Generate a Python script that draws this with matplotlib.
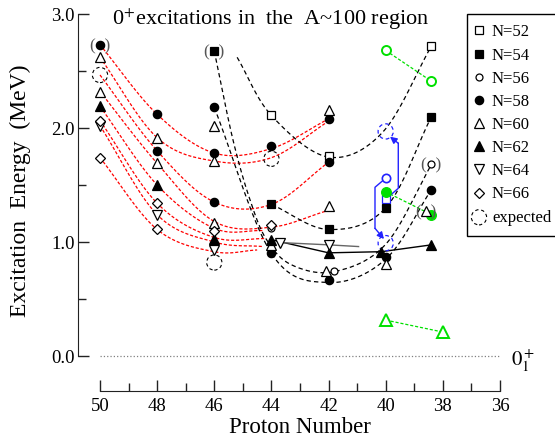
import matplotlib
matplotlib.use('Agg')
import matplotlib.pyplot as plt
import numpy as np

plt.rcParams['font.family'] = ['Liberation Serif', 'DejaVu Serif']
plt.rcParams['mathtext.fontset'] = 'stix'

# ---- data (proton number Z, excitation energy in MeV) ----
n52_z = [44, 42, 38.4]
n52_e = [2.11, 1.755, 2.72]
n52b_z = [40]
n52b_e = [1.375]
n54_z = [46, 44, 42, 40, 38.4]
n54_e = [2.675, 1.33, 1.11, 1.295, 2.10]
n56_z = [44, 41.8, 38.4]
n56_e = [1.12, 0.75, 1.68]
n56b_z = [40]
n56b_e = [1.56]
n56g_z = [40, 38.4]
n56g_e = [2.68, 2.41]
n58_z = [50, 48, 48, 46, 46, 46, 44, 44, 42, 42, 42, 40, 38.4]
n58_e = [2.73, 2.12, 1.80, 2.18, 1.78, 1.35, 1.84, 0.90, 2.08, 1.70, 0.665, 0.87, 1.46]
n58g_z = [40, 38.4]
n58g_e = [1.44, 1.24]
n60_z = [50, 50, 48, 48, 46, 46, 46, 44, 42, 42, 42.1, 40, 38.6]
n60_e = [2.62, 2.32, 1.915, 1.69, 2.02, 1.71, 1.17, 0.975, 2.16, 1.32, 0.75, 0.81, 1.27]
n60g_z = [40, 38.0]
n60g_e = [0.315, 0.21]
n62_z = [50, 48, 46, 44, 42, 40.15, 38.4]
n62_e = [2.19, 1.50, 1.03, 1.02, 0.90, 0.915, 0.975]
n64_z = [50, 48, 46, 43.7, 42]
n64_e = [2.02, 1.24, 0.93, 0.99, 0.975]
n66_z = [50, 50, 48, 48, 46, 44]
n66_e = [2.065, 1.74, 1.34, 1.11, 1.10, 1.15]
exp_z = [50, 46, 44]
exp_e = [2.465, 0.82, 1.73]
expb_z = [40, 40]
expb_e = [1.97, 0.99]
paren_z = [50, 46, 38.4, 38.6]
paren_e = [2.73, 2.675, 1.68, 1.27]

# red guide curves
red_curves = [
    ([50, 48, 46, 44, 42], [2.73, 2.12, 1.78, 1.82, 2.08]),
    ([50, 48, 46, 44, 42], [2.62, 1.915, 1.71, 1.74, 2.06]),
    ([50, 48, 46, 44, 42], [2.465, 1.80, 1.35, 1.33, 1.70]),
    ([50, 48, 46, 44, 42.1], [2.32, 1.69, 1.18, 1.13, 1.27]),
    ([50, 48, 46, 44.3], [2.19, 1.50, 1.12, 1.10]),
    ([50, 48, 46, 44.2], [2.065, 1.34, 1.04, 1.03]),
    ([50, 48, 46, 44.3], [2.02, 1.24, 1.00, 0.96]),
    ([50, 48, 46, 44.5], [1.74, 1.11, 0.915, 0.93]),
]
# black guide curves
black_curves = [
    ([45.2, 44, 42, 40.1, 38.4], [2.62, 2.11, 1.745, 1.965, 2.72]),
    ([44, 42, 40, 38.4], [1.33, 1.11, 1.30, 2.10]),
    ([46, 45.35, 44.75, 44.17, 43.3, 41.8, 40, 38.4], [2.675, 1.9, 1.37, 1.02, 0.80, 0.74, 0.98, 1.68]),
    ([46, 44, 42, 40, 38.4], [2.18, 0.90, 0.645, 0.85, 1.46]),
]
n62_line_z = [44, 42, 40.15, 38.4]
n62_line_e = [1.02, 0.905, 0.915, 0.975]
n64_line_z = [43.7, 42, 40.95]
n64_line_e = [0.995, 0.975, 0.96]
blue_path1_z = [40, 40.375, 40.375, 40.06]
blue_path1_e = [1.56, 1.48, 1.12, 1.026]
blue_path2_z = [40, 39.56, 39.56, 39.85]
blue_path2_e = [1.375, 1.471, 1.866, 1.924]

# pixel layout helpers
PX, PY = 28.571, 114.0
def zx(px):
    return 50 - (px - 100) / PX
def ey(py):
    return (356 - py) / PY

def smooth(zs, es, n=25):
    P = np.column_stack([np.asarray(zs, float) * PX, np.asarray(es, float) * PY])
    P = np.vstack([2 * P[0] - P[1], P, 2 * P[-1] - P[-2]])
    t = np.linspace(0, 1, n)[:, None]
    out = []
    for i in range(1, len(P) - 2):
        p0, p1, p2, p3 = P[i - 1], P[i], P[i + 1], P[i + 2]
        out.append(0.5 * (2 * p1 + (-p0 + p2) * t + (2 * p0 - 5 * p1 + 4 * p2 - p3) * t ** 2
                          + (-p0 + 3 * p1 - 3 * p2 + p3) * t ** 3))
    out = np.vstack(out)
    return out[:, 0] / PX, out[:, 1] / PY

fig = plt.figure(figsize=(5.55, 4.4), dpi=100)
ax = fig.add_axes([57 / 555, 35 / 440, 498 / 555, 400 / 440])
ax.set_xlim(zx(57), zx(555))
ax.set_ylim(ey(405), ey(5))

for s in ['top', 'right']:
    ax.spines[s].set_visible(False)
ax.spines['left'].set_position(('data', zx(78)))
ax.spines['left'].set_bounds(0, 3)
ax.spines['bottom'].set_position(('data', ey(391)))
ax.spines['bottom'].set_bounds(36, 50)
ax.spines['left'].set_color('#222222')
ax.spines['bottom'].set_color('#222222')

ax.set_xticks(range(36, 51, 2))
ax.set_xticks(range(37, 50, 2), minor=True)
ax.set_yticks([0, 1, 2, 3])
ax.set_yticklabels(['0.0', '1.0', '2.0', '3.0'])
ax.set_yticks([0.5, 1.5, 2.5], minor=True)
ax.tick_params(which='both', direction='in', color='#222222', labelsize=13.5)
ax.tick_params(which='major', length=8, width=1)
ax.tick_params(which='minor', length=6, width=1)
ax.tick_params(axis='x', pad=5)
ax.tick_params(axis='y', pad=2.5)

ax.plot([50, 36], [0, 0], color='gray', ls=':', lw=0.9)
ax.text(zx(511), ey(361), '$0_1^+$', fontsize=15, ha='left', va='center')

for zs, es in red_curves:
    cx, cy = smooth(zs, es)
    ax.plot(cx, cy, color='red', ls=(0, (2.5, 1.5)), lw=0.9, zorder=2)
for zs, es in black_curves:
    cx, cy = smooth(zs, es)
    ax.plot(cx, cy, color='black', ls=(0, (3.5, 2.5)), lw=0.9, zorder=2)

ax.plot(n62_line_z, n62_line_e, color='black', lw=1.0, zorder=2)
ax.plot(n64_line_z, n64_line_e, color='#666666', lw=1.0, zorder=2)

green = '#00e000'
ax.plot(n56g_z, n56g_e, color=green, ls=(0, (2.5, 1.5)), lw=0.9, zorder=2)
ax.plot(n58g_z, n58g_e, color=green, ls=(0, (2.5, 1.5)), lw=0.9, zorder=2)
ax.plot(n60g_z, n60g_e, color=green, ls=(0, (2.5, 1.5)), lw=0.9, zorder=2)

blue = '#2222ff'
ax.plot(blue_path1_z[:-1], blue_path1_e[:-1], color=blue, lw=1.0, zorder=2)
ax.annotate('', xy=(blue_path1_z[-1], blue_path1_e[-1]), xytext=(blue_path1_z[-2], blue_path1_e[-2]),
            arrowprops=dict(arrowstyle='-|>', color=blue, lw=1.0, mutation_scale=10, shrinkA=0, shrinkB=0))
ax.plot(blue_path2_z[:-1], blue_path2_e[:-1], color=blue, lw=1.0, zorder=2)
ax.annotate('', xy=(blue_path2_z[-1], blue_path2_e[-1]), xytext=(blue_path2_z[-2], blue_path2_e[-2]),
            arrowprops=dict(arrowstyle='-|>', color=blue, lw=1.0, mutation_scale=10, shrinkA=0, shrinkB=0))

mk = dict(ls='none', mew=0.9, zorder=4)
h52, = ax.plot(n52_z, n52_e, 's', ms=6, mfc='white', mec='black', label='N=52', **mk)
ax.plot(n52b_z, n52b_e, 's', ms=6, mfc='white', mec=blue, **mk)
h54, = ax.plot(n54_z, n54_e, 's', ms=6, mfc='black', mec='black', label='N=54', **mk)
h56, = ax.plot(n56_z, n56_e, 'o', ms=5, mfc='white', mec='black', label='N=56', **mk)
ax.plot(n56b_z, n56b_e, 'o', ms=6, mfc='white', mec=blue, mew=1.2, ls='none', zorder=4)
ax.plot(n56g_z, n56g_e, 'o', ms=6.5, mfc='white', mec=green, mew=1.4, ls='none', zorder=4)
h58, = ax.plot(n58_z, n58_e, 'o', ms=6, mfc='black', mec='black', label='N=58', **mk)
ax.plot(n58g_z, n58g_e, 'o', ms=7, mfc=green, mec=green, **mk)
h60, = ax.plot(n60_z, n60_e, '^', ms=7.5, mfc='white', mec='black', label='N=60', **mk)
ax.plot(n60g_z, n60g_e, '^', ms=8.5, mfc='white', mec=green, mew=1.4, ls='none', zorder=4)
h62, = ax.plot(n62_z, n62_e, '^', ms=7.5, mfc='black', mec='black', label='N=62', **mk)
h64, = ax.plot(n64_z, n64_e, 'v', ms=7.5, mfc='white', mec='black', label='N=64', **mk)
h66, = ax.plot(n66_z, n66_e, 'D', ms=5, mfc='white', mec='black', label='N=66', **mk)
hexp = ax.scatter(exp_z, exp_e, s=120, facecolors='none', edgecolors='black', linewidths=0.8,
                  linestyles=(0, (3, 2.5)), zorder=3, label='expected')
ax.scatter(expb_z, expb_e, s=120, facecolors='none', edgecolors=blue, linewidths=0.9,
           linestyles=(0, (3, 2.5)), zorder=3)
for z, e in zip(paren_z, paren_e):
    ax.text(z, e - 0.045, '(  )', fontsize=12.5, color='#555555', ha='center', va='baseline', zorder=5)

leg = ax.legend(handles=[h52, h54, h56, h58, h60, h62, h64, h66, hexp],
                loc='upper left', bbox_to_anchor=(467 / 555, 1 - 14 / 440),
                bbox_transform=fig.transFigure, fontsize=12, frameon=True, fancybox=False,
                edgecolor='black', framealpha=1, borderpad=0.62, handlelength=0.2,
                handletextpad=0.68, labelspacing=0.43, borderaxespad=0)
leg.get_frame().set_linewidth(1.0)

fig.text(271 / 555, 1 - 19 / 440, '0$^{+}$excitations in  the  A~100 region', fontsize=16,
         ha='center', va='center')
fig.text(20 / 555, 1 - 191 / 440, 'Excitation  Energy  (MeV)', fontsize=17, rotation=90,
         ha='center', va='center')
fig.text(300 / 555, 1 - 427 / 440, 'Proton Number', fontsize=16.5, ha='center', va='center')

fig.savefig('out.png', dpi=100)
